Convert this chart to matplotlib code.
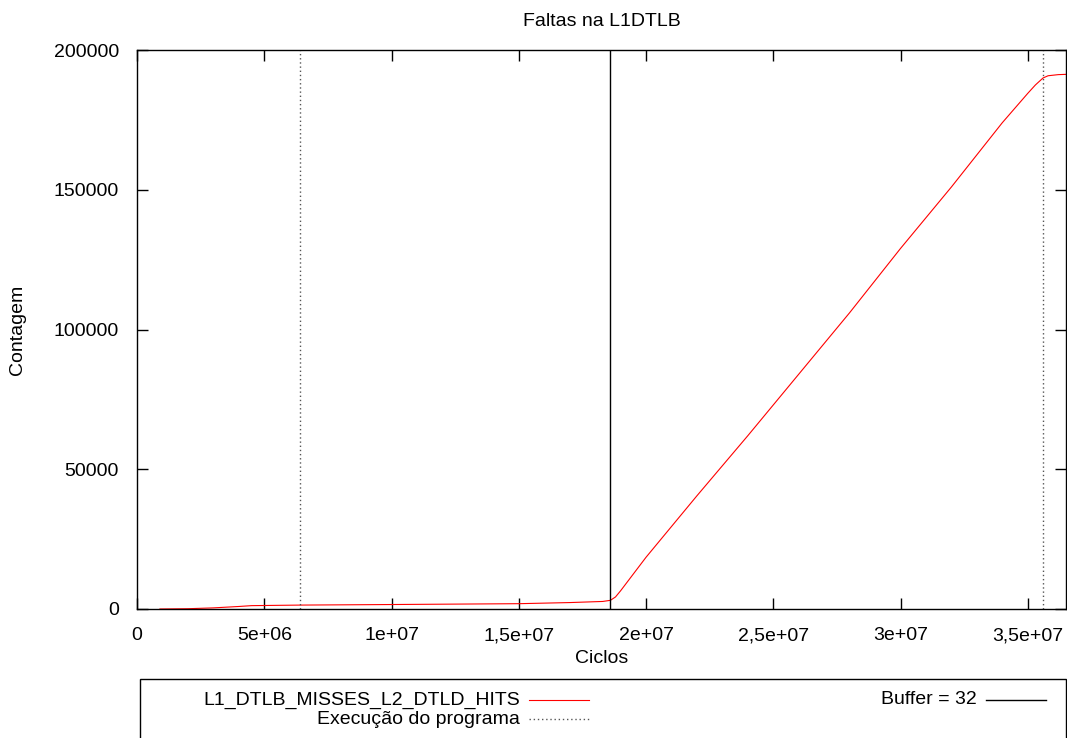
import matplotlib
matplotlib.use("Agg")
import matplotlib.pyplot as plt
from matplotlib.lines import Line2D
from matplotlib.patches import Rectangle

plt.rcParams['font.family'] = ['Liberation Sans', 'DejaVu Sans']

# L1 DTLB misses (cumulative) over cycles
cycles = [0.9e6, 2e6, 3e6, 4e6, 4.5e6, 6.4e6, 10e6, 15e6, 17e6, 18.3e6, 18.6e6,
          18.8e6, 19e6, 19.5e6, 20e6, 22e6, 24e6, 26e6, 28e6, 30e6, 32e6, 34e6,
          35e6, 35.3e6, 35.6e6, 35.8e6, 36.2e6, 36.5e6]
misses = [0, 100, 400, 900, 1200, 1400, 1600, 1900, 2300, 2700, 3100,
          4300, 6500, 12500, 18500, 40500, 62000, 84000, 106000, 129000, 151000, 174000,
          184500, 187500, 190000, 190800, 191200, 191300]

prog_marks = [6.4e6, 35.6e6]   # start / end of program execution
buffer_mark = 18.6e6           # buffer = 32

xticks = [0, 5e6, 1e7, 1.5e7, 2e7, 2.5e7, 3e7, 3.5e7]
xtick_labels = ['0', '5e+06', '1e+07', '1,5e+07', '2e+07', '2,5e+07', '3e+07', '3,5e+07']
yticks = [0, 50000, 100000, 150000, 200000]

FS = 14

fig = plt.figure(figsize=(10.67, 7.38), dpi=100)
ax = fig.add_axes([0.1284, 0.1748, 0.8706, 0.7574])

ax.plot(cycles, misses, color='#ff0000', lw=0.8)
for xm in prog_marks:
    ax.axvline(xm, color='#555555', lw=1.0, ls=(0, (1, 2)))
ax.axvline(buffer_mark, color='black', lw=1.0)

ax.set_xlim(0, 3.65e7)
ax.set_ylim(0, 200000)
ax.set_xticks(xticks)
ax.set_xticklabels(xtick_labels)
ax.set_yticks(yticks)
ax.tick_params(direction='in', length=8, width=1, top=True, right=True, labelsize=FS)
ax.tick_params(axis='x', pad=13)
ax.tick_params(axis='y', pad=13)
for s in ax.spines.values():
    s.set_linewidth(1.0)

ax.set_xlabel('Ciclos', fontsize=FS, labelpad=4)
ax.set_ylabel('Contagem', fontsize=FS, labelpad=20)
ax.set_title('Faltas na L1DTLB', fontsize=FS, pad=17)

# legend box in gnuplot style: text right-aligned, then sample line
W, H = 1067.0, 738.0
fig.patches.append(Rectangle((140 / W, -0.01), (1066 - 140) / W, (738 - 679) / H + 0.01,
                             transform=fig.transFigure, fill=False, ec='black', lw=1.0))
entries = [
    (520, 700, 'L1_DTLB_MISSES_L2_DTLD_HITS', dict(color='#ff0000', lw=0.8)),
    (520, 719, 'Execução do programa', dict(color='#555555', lw=1.0, ls=(0, (1, 2)))),
    (977, 700, 'Buffer = 32', dict(color='black', lw=1.0)),
]
for xr, yc, label, style in entries:
    fig.text(xr / W, 1 - yc / H, label, ha='right', va='center', fontsize=FS)
    fig.lines.append(Line2D([(xr + 9) / W, (xr + 69) / W], [1 - yc / H, 1 - yc / H],
                            transform=fig.transFigure, **style))

fig.savefig('out.png', dpi=100)
